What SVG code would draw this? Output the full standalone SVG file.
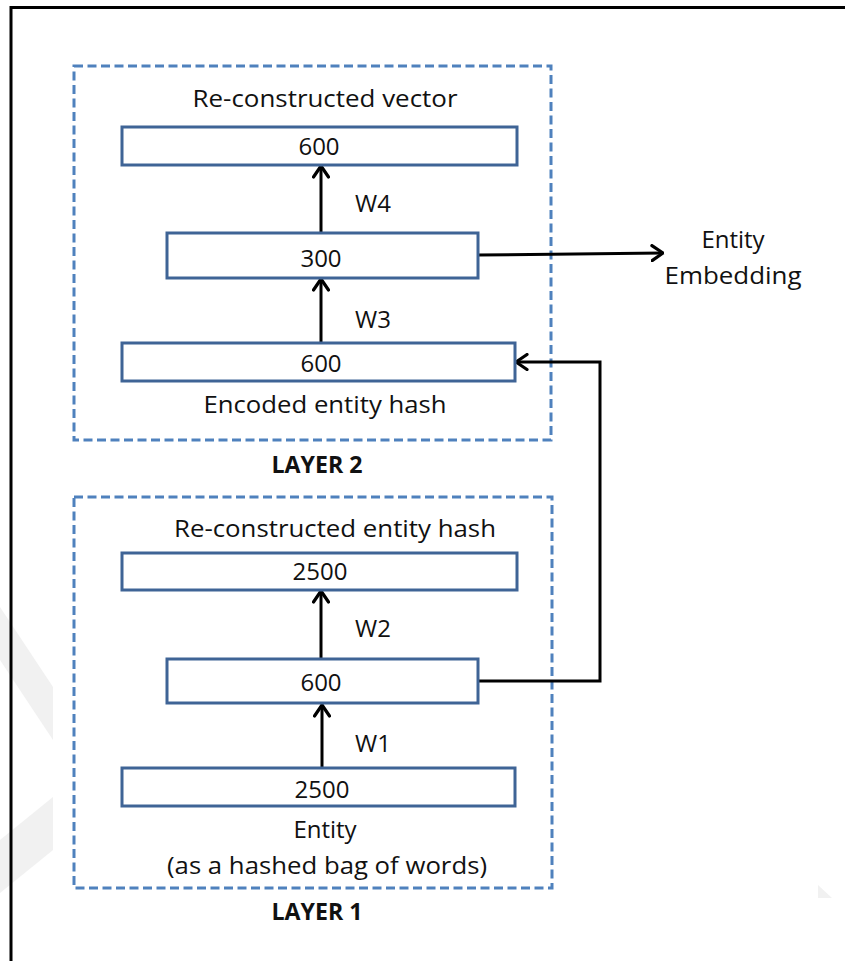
<svg xmlns="http://www.w3.org/2000/svg" width="845" height="961" viewBox="0 0 845 961">
  <defs>
    <style>
      .frame { stroke: #000; stroke-width: 3; fill: none; }
      .layer { fill: none; stroke: #4F81BD; stroke-width: 3; stroke-dasharray: 9 4.5; }
      .unit { fill: #fff; stroke: #3F6496; stroke-width: 3; }
      .wire { fill: none; stroke: #000; stroke-width: 3; }
      .lbl { font-family: "Open Sans", "Noto Sans", "Liberation Sans", sans-serif; font-size: 24px; fill: #111; text-anchor: middle; }
      .bold { font-weight: bold; }
      .wm { fill: #f1f1f1; }
    </style>
    <marker id="head" viewBox="0 0 14 18" refX="12.5" refY="9" markerWidth="14" markerHeight="18" markerUnits="userSpaceOnUse" orient="auto">
      <path d="M1.5,1.5 L12.5,9 L1.5,16.5" fill="none" stroke="#000" stroke-width="3.2" stroke-linecap="round" stroke-linejoin="round"/>
    </marker>
  </defs>

  <rect width="845" height="961" fill="#fff"/>

  <!-- faint background marks -->
  <g id="background-marks">
    <polygon class="wm" points="0,607 53,687 53,740 0,660"/>
    <polygon class="wm" points="0,840 53,797 53,850 0,893"/>
    <polygon class="wm" points="818,885 832,898 818,898"/>
  </g>

  <!-- page frame -->
  <path class="frame" d="M11,961 V7.5 H845"/>

  <!-- layer groupings -->
  <g id="layer2">
    <rect class="layer" x="74" y="66" width="477" height="374"/>
    <text class="lbl bold" x="317" y="473" textLength="91" lengthAdjust="spacingAndGlyphs">LAYER 2</text>
  </g>
  <g id="layer1">
    <rect class="layer" x="74" y="497" width="478" height="391"/>
    <text class="lbl bold" x="317" y="920" textLength="91" lengthAdjust="spacingAndGlyphs">LAYER 1</text>
  </g>

  <!-- connectors -->
  <g id="connectors">
    <line class="wire" x1="321" y1="233" x2="321" y2="166" marker-end="url(#head)"/>
    <line class="wire" x1="321" y1="343" x2="321" y2="279" marker-end="url(#head)"/>
    <line class="wire" x1="321" y1="658" x2="321" y2="591" marker-end="url(#head)"/>
    <line class="wire" x1="322" y1="768" x2="322" y2="705" marker-end="url(#head)"/>
    <path class="wire" d="M478,255 L663,253" marker-end="url(#head)"/>
    <path class="wire" d="M478,681 H600 V362 H516" marker-end="url(#head)"/>
    <text class="lbl" x="373" y="212">W4</text>
    <text class="lbl" x="373" y="328">W3</text>
    <text class="lbl" x="373" y="637">W2</text>
    <text class="lbl" x="373" y="752">W1</text>
  </g>

  <!-- layer 2 units -->
  <g id="reconstructed-vector">
    <text class="lbl" x="325" y="107" textLength="265" lengthAdjust="spacingAndGlyphs">Re-constructed vector</text>
    <rect class="unit" x="122" y="127" width="395" height="38"/>
    <text class="lbl" x="319" y="155">600</text>
  </g>
  <g id="code-300">
    <rect class="unit" x="167" y="233" width="311" height="45"/>
    <text class="lbl" x="321" y="267">300</text>
  </g>
  <g id="encoded-hash">
    <rect class="unit" x="122" y="343" width="393" height="38"/>
    <text class="lbl" x="321" y="372">600</text>
    <text class="lbl" x="325" y="413" textLength="243" lengthAdjust="spacingAndGlyphs">Encoded entity hash</text>
  </g>
  <g id="entity-embedding">
    <text class="lbl" x="733" y="248">Entity</text>
    <text class="lbl" x="733" y="284" textLength="137" lengthAdjust="spacingAndGlyphs">Embedding</text>
  </g>

  <!-- layer 1 units -->
  <g id="reconstructed-hash">
    <text class="lbl" x="335" y="537" textLength="322" lengthAdjust="spacingAndGlyphs">Re-constructed entity hash</text>
    <rect class="unit" x="122" y="553" width="395" height="37"/>
    <text class="lbl" x="320" y="580">2500</text>
  </g>
  <g id="hidden-600">
    <rect class="unit" x="167" y="659" width="311" height="44"/>
    <text class="lbl" x="321" y="691">600</text>
  </g>
  <g id="entity-input">
    <rect class="unit" x="122" y="768" width="393" height="38"/>
    <text class="lbl" x="322" y="798">2500</text>
    <text class="lbl" x="325" y="838">Entity</text>
    <text class="lbl" x="327" y="874" textLength="320" lengthAdjust="spacingAndGlyphs">(as a hashed bag of words)</text>
  </g>
</svg>
